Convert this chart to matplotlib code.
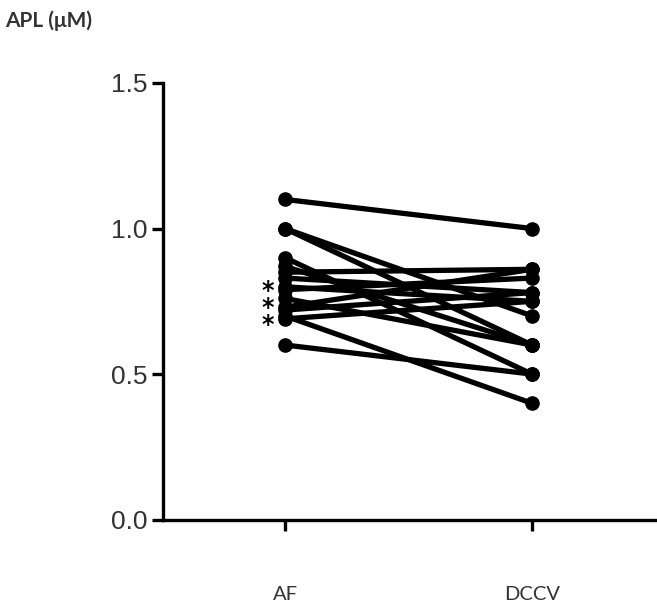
import matplotlib.pyplot as plt

# 两组配对测量值 (APL, μM)
groups = ['AF', 'DCCV']
af_vals = [1.10, 1.00, 1.00, 0.90, 0.87, 0.85, 0.83, 0.80, 0.79, 0.76, 0.73, 0.72, 0.70, 0.69, 0.60]
dccv_vals = [1.00, 0.70, 0.60, 0.50, 0.60, 0.86, 0.78, 0.75, 0.83, 0.60, 0.86, 0.78, 0.40, 0.75, 0.50]
star_center = 0.728
y_ticks = [0.0, 0.5, 1.0, 1.5]
y_tick_labels = ['0.0', '0.5', '1.0', '1.5']

fig = plt.figure(figsize=(6.57, 6.10), dpi=100)
ax = fig.add_axes([0.248, 0.148, 0.752, 0.716])

# 画每个人的前后连线
for a, d in zip(af_vals, dccv_vals):
    ax.plot([0, 1], [a, d], '-o', color='black', lw=3.8, markersize=9.5, solid_capstyle='round')

# 星号标记(三个叠在一起)
ax.text(-0.068, star_center, '*\n*\n*', ha='center', va='center', fontsize=17, fontweight='bold',
        linespacing=0.62, color='black', family='DejaVu Sans')

ax.set_xlim(-0.494, 1.506)
ax.set_ylim(0, 1.5)
ax.set_xticks([0, 1])
ax.set_xticklabels(groups, fontsize=14.5, family='Lato', color='#333333')
ax.set_yticks(y_ticks)
ax.set_yticklabels(y_tick_labels, fontsize=19, family=['Liberation Sans Narrow', 'Liberation Sans'], color='#333333')
ax.tick_params(axis='x', length=8, width=2.4, pad=40)
ax.tick_params(axis='y', length=8, width=2.4, pad=3)

for s in ['top', 'right']:
    ax.spines[s].set_visible(False)
for s in ['left', 'bottom']:
    ax.spines[s].set_linewidth(2.4)
ax.spines['bottom'].set_bounds(-0.494, 1.506)

fig.text(0.008, 0.966, 'APL (μM)', fontsize=15, fontweight='bold', family='Lato', color='#333333', ha='left', va='center')

fig.savefig('out.png', dpi=100)
